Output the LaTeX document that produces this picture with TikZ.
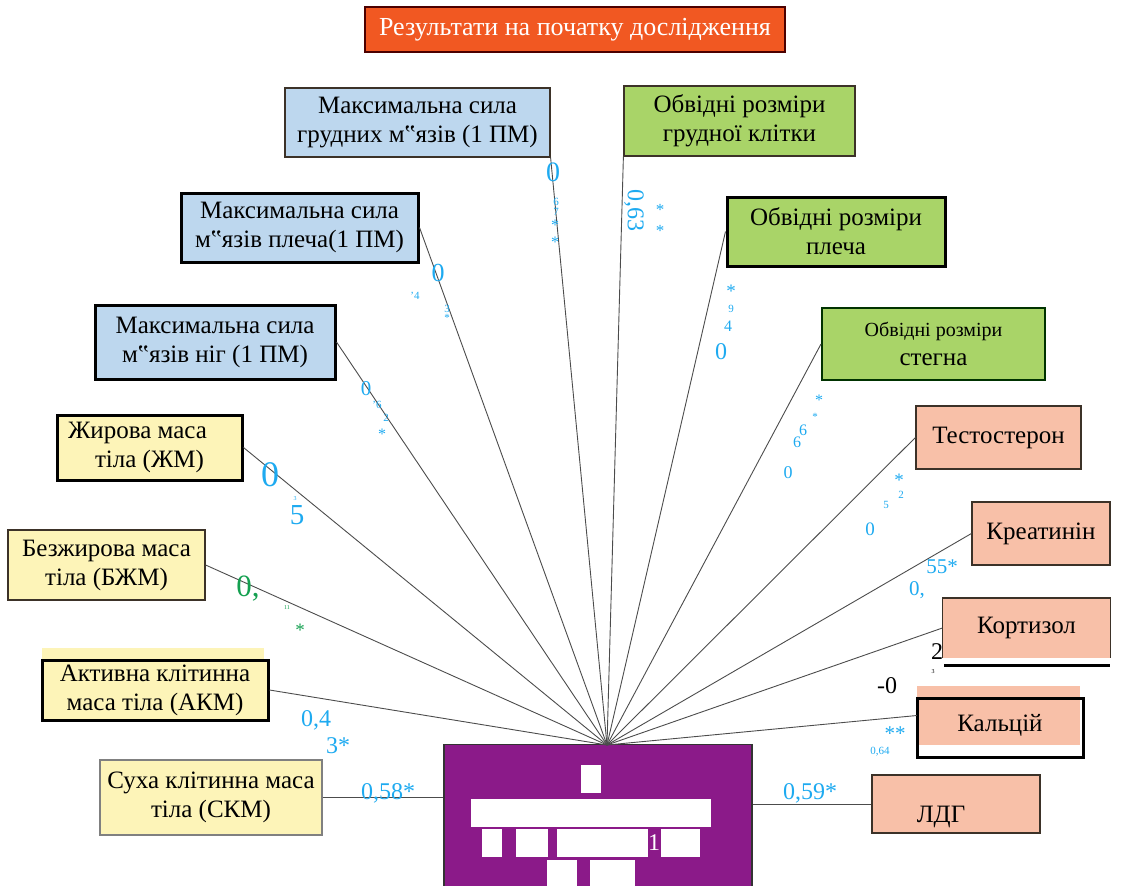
\documentclass[tikz,border=0pt]{standalone}
\usepackage{fontspec}
\setmainfont{Liberation Serif}
\definecolor{ttl}{RGB}{241,88,34}
\definecolor{bluef}{RGB}{189,215,238}
\definecolor{greenf}{RGB}{169,212,104}
\definecolor{yellowf}{RGB}{253,244,184}
\definecolor{salmonf}{RGB}{248,192,168}
\definecolor{purplef}{RGB}{139,26,137}
\definecolor{cyantxt}{RGB}{30,170,240}
\definecolor{greentxt}{RGB}{20,160,80}
\definecolor{edgedark}{RGB}{60,50,40}
\begin{document}
\begin{tikzpicture}[x=1pt,y=-1pt,
  box/.style={draw=edgedark,line width=1.2pt,inner sep=2pt,align=center,font=\fontsize{25}{29}\selectfont},
  thick box/.style={box,draw=black,line width=3pt},
  conn/.style={draw=black!70,line width=0.9pt},
  val/.style={text=cyantxt,inner sep=0pt,font=\fontsize{24}{26}\selectfont},
  tiny/.style={text=cyantxt,inner sep=0pt,font=\fontsize{11}{12}\selectfont},
  sm/.style={text=cyantxt,inner sep=0pt,font=\fontsize{16}{17}\selectfont},
  wr/.style={fill=white,draw=none}]
\useasboundingbox (0,0) rectangle (1125,886);
% title
\node[box,fill=ttl,draw=black!70!red,text=white,minimum width=420pt,minimum height=45pt,font=\fontsize{26}{30}\selectfont] (title) at (575,29.5) {Результати на початку дослідження};
% purple box
\node[draw=black!80,line width=1.5pt,fill=purplef,minimum width=308pt,minimum height=145pt,inner sep=0pt] (pbox) at (598,817) {};
\coordinate (hub) at (607,745);
\fill[wr] (581,765) rectangle (601,793);
\fill[wr] (471,799) rectangle (711,827);
\fill[wr] (482,829) rectangle (502,857);
\fill[wr] (516,829) rectangle (548,857);
\fill[wr] (557,829) rectangle (648,857);
\fill[wr] (661,829) rectangle (700,857);
\fill[wr] (547,860) rectangle (577,886);
\fill[wr] (590,860) rectangle (635,886);
\node[text=white,inner sep=0pt,font=\fontsize{24}{26}\selectfont] (one) at (654,843) {1};
% left boxes
\node[box,fill=bluef,minimum width=265pt,minimum height=69pt] (b2) at (417.5,122.5) {Максимальна сила\\грудних м‟язів (1 ПМ)};
\node[thick box,fill=bluef,minimum width=237pt,minimum height=69pt] (b4) at (299.5,227.5) {Максимальна сила\\м‟язів плеча(1 ПМ)};
\node[thick box,fill=bluef,minimum width=240pt,minimum height=74pt] (b6) at (215,342) {Максимальна сила\\м‟язів ніг (1 ПМ)};
\node[thick box,fill=yellowf,minimum width=185pt,minimum height=65pt,align=flush left,text width=163pt,inner xsep=0pt] (b8) at (149.5,447.5) {Жирова маса\\\hspace*{27pt}тіла (ЖМ)};
\node[box,fill=yellowf,minimum width=197pt,minimum height=70pt] (b9) at (106.5,565) {Безжирова маса\\тіла (БЖМ)};
\fill[yellowf] (42,648) rectangle (264,662);
\node[thick box,fill=yellowf,minimum width=226pt,minimum height=60pt] (b10) at (155,690) {Активна клітинна\\маса тіла (АКМ)};
\node[box,draw=black!50,fill=yellowf,minimum width=222pt,minimum height=75pt] (b11) at (211,797.5) {Суха клітинна маса\\тіла (СКМ)};
% right boxes
\node[box,fill=greenf,minimum width=231pt,minimum height=70pt] (b3) at (739.5,121) {Обвідні розміри\\грудної клітки};
\node[thick box,fill=greenf,minimum width=218pt,minimum height=69pt] (b5) at (836,231.5) {Обвідні розміри\\плеча};
\node[box,draw=black!80!green,line width=2pt,fill=greenf,minimum width=223pt,minimum height=72pt] (b7) at (933.5,344) {{\fontsize{20}{30}\selectfont Обвідні розміри}\\стегна};
\node[box,fill=salmonf,minimum width=165pt,minimum height=63pt] (b12) at (998.5,437.5) {Тестостерон};
\node[box,fill=salmonf,minimum width=138pt,minimum height=63pt] (b13) at (1041,533.5) {Креатинін};
\node[box,draw=none,fill=salmonf,minimum width=167pt,minimum height=59pt] (b14) at (1026.5,628) {Кортизол};
\draw[edgedark,line width=1.2pt] (b14.south west) -- (b14.north west) -- (b14.north east) -- (b14.south east);
\draw[black,line width=3pt] (944,665) -- (1110,665);
\node[fill=salmonf,minimum width=163pt,minimum height=59pt,inner sep=0pt] (b15) at (998.5,715.5) {};
\draw[black,line width=3pt] (917,698) rectangle (1083,757);
\node[inner sep=0pt,font=\fontsize{25}{29}\selectfont] (b15t) at (1000,725) {Кальцій};
\node[box,fill=salmonf,minimum width=168pt,minimum height=58pt] (b16) at (956,804) {};
\node[inner sep=0pt,font=\fontsize{25}{29}\selectfont] (b16t) at (941,817) {ЛДГ};
% connectors
\draw[conn] (b2.south east) -- (hub);
\draw[conn] (b3.south west) -- (hub);
\draw[conn] (b4.east) -- (hub);
\draw[conn] (b5.west) -- (hub);
\draw[conn] (b6.east) -- (hub);
\draw[conn] (b7.west) -- (hub);
\draw[conn] (b8.east) -- (hub);
\draw[conn] (b9.east) -- (hub);
\draw[conn] (b10.east) -- (hub);
\draw[conn] (b12.west) -- (hub);
\draw[conn] (b13.west) -- (hub);
\draw[conn] (b14.west) -- (hub);
\draw[conn] (b15.west) -- (hub);
\draw[conn] (b11.east) -- (b11.east -| pbox.west);
\draw[conn] (b16.west) -- (b16.west -| pbox.east);
% values
\node[val,font=\fontsize{28}{30}\selectfont] (v1a) at (553,172) {0};
\node[tiny,align=center,font=\fontsize{11}{10}\selectfont] (v1b) at (556,207) {6\\7};
\node[sm,align=center,font=\fontsize{16}{17}\selectfont] (v1d) at (555,234) {*\\*};
\node[val,rotate=-90] (v2a) at (634,210) {0,63};
\node[sm,font=\fontsize{17}{18}\selectfont] (v2b) at (660,210) {*};
\node[sm,font=\fontsize{17}{18}\selectfont] (v2c) at (660,231) {*};
\node[val,font=\fontsize{26}{28}\selectfont] (v3a) at (438,273) {0};
\node[tiny] (v3b) at (415,296) {'4};
\node[tiny,align=center,font=\fontsize{11}{9}\selectfont] (v3c) at (447,313) {3\\*};
\node[sm,font=\fontsize{19}{20}\selectfont] (v4a) at (731,291) {*};
\node[tiny] (v4b) at (731,309) {9};
\node[sm] (v4c) at (728,326) {4};
\node[val] (v4d) at (721,352) {0};
\node[val,font=\fontsize{21}{23}\selectfont] (v5a) at (366,389) {0};
\node[tiny] (v5b) at (377,405) {'6};
\node[tiny] (v5c) at (386,418) {2};
\node[sm] (v5d) at (382,434) {*};
\node[sm] (v6a) at (819,400) {*};
\node[tiny] (v6b) at (815,417) {*};
\node[sm,align=left,font=\fontsize{16}{12}\selectfont] (v6c) at (800,436) {\hspace*{6pt}6\\6};
\node[sm,font=\fontsize{18}{19}\selectfont] (v6e) at (788,473) {0};
\node[val,font=\fontsize{36}{38}\selectfont] (v7a) at (270,475) {0};
\node[val,font=\fontsize{29}{31}\selectfont] (v7b) at (297,515) {5};
\node[tiny,font=\fontsize{6}{7}\selectfont] (v7c) at (295,499) {3};
\node[val,text=greentxt,font=\fontsize{31}{33}\selectfont] (v8a) at (248,589) {0,};
\node[tiny,text=greentxt,font=\fontsize{6}{7}\selectfont] (v8b) at (287,608) {11};
\node[sm,text=greentxt,font=\fontsize{19}{20}\selectfont] (v8c) at (300,630) {*};
\node[sm,font=\fontsize{19}{20}\selectfont] (v9a) at (899,480) {*};
\node[tiny] (v9b) at (901,495) {2};
\node[tiny] (v9c) at (886,505) {5};
\node[sm,font=\fontsize{19}{20}\selectfont] (v9d) at (870,529) {0};
\node[val,font=\fontsize{21}{23}\selectfont] (v10a) at (942,567) {55*};
\node[val,font=\fontsize{21}{23}\selectfont] (v10b) at (917,590) {0,};
\node[text=black,inner sep=0pt,font=\fontsize{24}{26}\selectfont] (v11a) at (937,652) {2};
\node[text=black,inner sep=0pt,font=\fontsize{6}{7}\selectfont] (v11b) at (933,672) {3};
\node[text=black,inner sep=0pt,font=\fontsize{24}{26}\selectfont] (v11c) at (887,686) {-0};
\node[val,font=\fontsize{21}{23}\selectfont] (v12a) at (895,734) {**};
\node[tiny] (v12b) at (880,752) {0,64};
\node[val] (v13a) at (316,720) {0,4};
\node[val] (v13b) at (338,746) {3*};
\node[val] (v14) at (388,793) {0,58*};
\node[val] (v15) at (810,793) {0,59*};
\end{tikzpicture}
\end{document}
